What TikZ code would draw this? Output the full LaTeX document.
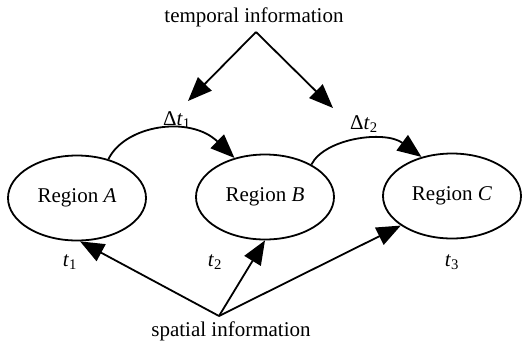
\documentclass[tikz,border=0pt]{standalone}
\usepackage{fontspec}
\setmainfont{Liberation Serif}
\usetikzlibrary{arrows.meta,shapes.geometric}
\begin{document}
\begin{tikzpicture}[x=1pt,y=-1pt,
  lbl/.style={font=\fontsize{21}{25}\selectfont, inner sep=0pt},
  region/.style={ellipse, draw, line width=1.8pt, minimum width=138pt, minimum height=85pt, inner sep=0pt, font=\fontsize{21}{25}\selectfont},
  arr/.style={line width=1.8pt, -{Triangle[length=24pt,width=19pt]}}]
\useasboundingbox (0,0) rectangle (522,354);
\node[region] (A) at (77,198) {Region \textit{A}};
\node[region] (B) at (265,197) {Region \textit{B}};
\node[region] (C) at (452,196) {Region \textit{C}};
\node[lbl] (T) at (254,17) {temporal information};
\node[lbl] (S) at (231,331) {spatial information};
\coordinate (Tp) at (256,32);
\coordinate (Sp) at (219,316);
\coordinate (T1) at (188,101);
\coordinate (T2) at (333,108);
\node[lbl] (d1) at (177,120) {Δ\textit{t}\textsubscript{1}};
\node[lbl] (d2) at (364,124) {Δ\textit{t}\textsubscript{2}};
\node[lbl] (t1) at (70,262) {\textit{t}\textsubscript{1}};
\node[lbl] (t2) at (215,262) {\textit{t}\textsubscript{2}};
\node[lbl] (t3) at (452,262) {\textit{t}\textsubscript{3}};
\draw[arr] (Tp) -- (T1);
\draw[arr] (Tp) -- (T2);
\draw[arr] (A.51) .. controls (125,125) and (190,115) .. (B.128);
\draw[arr] (B.35) .. controls (325,138) and (385,130) .. (C.128);
\draw[arr] (Sp) -- (A.-86);
\draw[arr] (Sp) -- (B.south);
\draw[arr] (Sp) -- (C.210);
\end{tikzpicture}
\end{document}
